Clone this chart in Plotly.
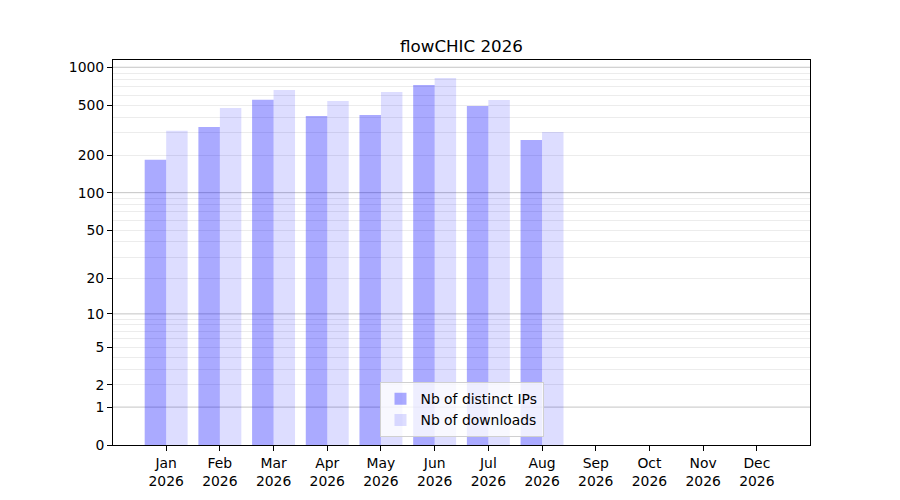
import numpy as np
import plotly.graph_objs as go

# monthly stats
months = ["Jan", "Feb", "Mar", "Apr", "May", "Jun", "Jul", "Aug", "Sep", "Oct", "Nov", "Dec"]
year = "2026"
distinct_ips = [183, 335, 552, 410, 417, 722, 492, 264]
downloads = [312, 475, 660, 540, 636, 822, 550, 305]

ytick_values = [0, 1, 2, 5, 10, 20, 50, 100, 200, 500, 1000]
major_grid = [1, 10, 100, 1000]
minor_grid = [2, 3, 4, 5, 6, 7, 8, 9,
              20, 30, 40, 50, 60, 70, 80, 90,
              200, 300, 400, 500, 600, 700, 800, 900]


def tr(v):
    # symlog-like scale used by the original chart
    return np.log10(1 + np.asarray(v, dtype=float))


font = "DejaVu Sans"
fig = go.Figure()

fig.add_trace(go.Bar(x=list(range(len(distinct_ips))), y=tr(distinct_ips),
                     name="Nb of distinct IPs",
                     marker=dict(color="rgba(0,0,255,0.333)", line=dict(width=0))))
fig.add_trace(go.Bar(x=list(range(len(downloads))), y=tr(downloads),
                     name="Nb of downloads",
                     marker=dict(color="rgba(0,0,255,0.133)", line=dict(width=0))))

# darker grid lines on the decades
for v in major_grid:
    fig.add_shape(type="line", xref="paper", x0=0, x1=1, yref="y", y0=float(tr(v)), y1=float(tr(v)),
                  line=dict(color="#c4c4c4", width=1), layer="below")

# page body has an 8px margin, so the margins are shifted by that
fig.update_layout(
    title=dict(text="flowCHIC " + year, x=0.5, xref="paper", xanchor="center",
               y=1 - 38 / 500, yanchor="middle",
               font=dict(family=font, size=16.7, color="black")),
    width=900, height=500, autosize=False,
    margin=dict(l=105, r=98, t=52, b=63),
    paper_bgcolor="white", plot_bgcolor="white",
    barmode="group", bargap=0.2, bargroupgap=0,
    font=dict(family=font, size=13.9, color="black"),
    legend=dict(x=0.5, xanchor="center", y=0.02, yanchor="bottom",
                bgcolor="rgba(255,255,255,0.8)", bordercolor="#d0d0d0", borderwidth=1,
                font=dict(family=font, size=13.9), tracegroupgap=0),
    showlegend=True,
)

fig.update_xaxes(
    range=[-0.99, 11.99],
    tickmode="array", tickvals=list(range(len(months))),
    ticktext=[m + "<br>" + year for m in months],
    ticks="outside", ticklen=5, tickwidth=1, tickcolor="black",
    showline=True, mirror=True, linecolor="black", linewidth=1,
    showgrid=False, zeroline=False,
)

fig.update_yaxes(
    range=[0, 3.058],
    tickmode="array", tickvals=tr(ytick_values), ticktext=[str(v) for v in ytick_values],
    ticks="outside", ticklen=5, tickwidth=1, tickcolor="black",
    showline=True, mirror=True, linecolor="black", linewidth=1,
    showgrid=False, zeroline=False,
    minor=dict(tickmode="array", tickvals=tr(minor_grid), showgrid=True,
               gridcolor="#ececec", gridwidth=1, ticks=""),
)

fig.write_html("out.html")
